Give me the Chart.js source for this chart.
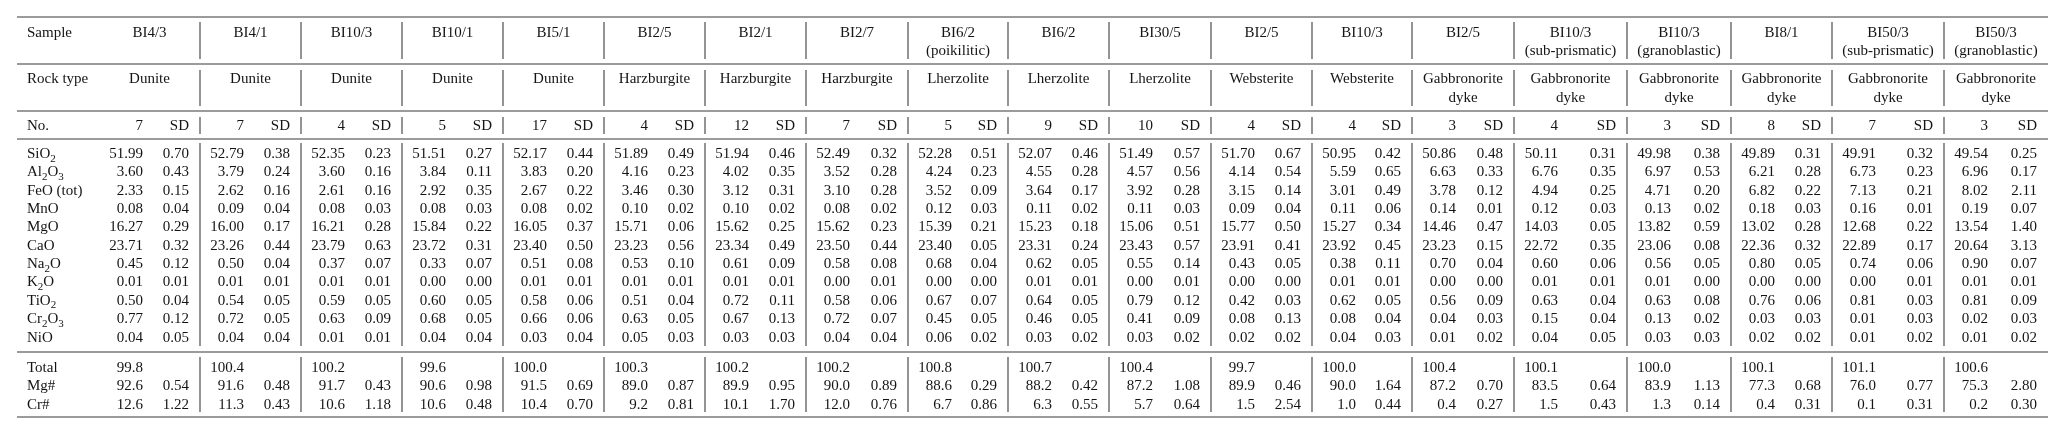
<!DOCTYPE html>
<html>
<head>
<meta charset="utf-8">
<script src="https://cdn.jsdelivr.net/npm/chart.js@4"></script>
<style>
html,body{margin:0;padding:0;background:#fff;}
#wrap{width:2067px;height:437px;}
</style>
</head>
<body>
<div id="wrap"><canvas id="c" width="2067" height="437"></canvas></div>
<script>
// ---------- DATA ----------
const samples = ['BI4/3','BI4/1','BI10/3','BI10/1','BI5/1','BI2/5','BI2/1','BI2/7','BI6/2','BI6/2','BI30/5','BI2/5','BI10/3','BI2/5','BI10/3','BI10/3','BI8/1','BI50/3','BI50/3'];
const sampleNotes = ['','','','','','','','','(poikilitic)','','','','','','(sub-prismatic)','(granoblastic)','','(sub-prismatic)','(granoblastic)'];
const rockTypes = ['Dunite','Dunite','Dunite','Dunite','Dunite','Harzburgite','Harzburgite','Harzburgite','Lherzolite','Lherzolite','Lherzolite','Websterite','Websterite','Gabbronorite','Gabbronorite','Gabbronorite','Gabbronorite','Gabbronorite','Gabbronorite'];
const rockNotes = ['','','','','','','','','','','','','','dyke','dyke','dyke','dyke','dyke','dyke'];
const nAnalyses = [7,7,4,5,17,4,12,7,5,9,10,4,4,3,4,3,8,7,3];

const rowLabels = ['SiO_2','Al_2O_3','FeO (tot)','MnO','MgO','CaO','Na_2O','K_2O','TiO_2','Cr_2O_3','NiO'];
const summaryLabels = ['Total','Mg#','Cr#'];

const SiO2     = [51.99,52.79,52.35,51.51,52.17,51.89,51.94,52.49,52.28,52.07,51.49,51.70,50.95,50.86,50.11,49.98,49.89,49.91,49.54];
const SiO2_sd  = [0.70,0.38,0.23,0.27,0.44,0.49,0.46,0.32,0.51,0.46,0.57,0.67,0.42,0.48,0.31,0.38,0.31,0.32,0.25];
const Al2O3    = [3.60,3.79,3.60,3.84,3.83,4.16,4.02,3.52,4.24,4.55,4.57,4.14,5.59,6.63,6.76,6.97,6.21,6.73,6.96];
const Al2O3_sd = [0.43,0.24,0.16,0.11,0.20,0.23,0.35,0.28,0.23,0.28,0.56,0.54,0.65,0.33,0.35,0.53,0.28,0.23,0.17];
const FeO      = [2.33,2.62,2.61,2.92,2.67,3.46,3.12,3.10,3.52,3.64,3.92,3.15,3.01,3.78,4.94,4.71,6.82,7.13,8.02];
const FeO_sd   = [0.15,0.16,0.16,0.35,0.22,0.30,0.31,0.28,0.09,0.17,0.28,0.14,0.49,0.12,0.25,0.20,0.22,0.21,2.11];
const MnO      = [0.08,0.09,0.08,0.08,0.08,0.10,0.10,0.08,0.12,0.11,0.11,0.09,0.11,0.14,0.12,0.13,0.18,0.16,0.19];
const MnO_sd   = [0.04,0.04,0.03,0.03,0.02,0.02,0.02,0.02,0.03,0.02,0.03,0.04,0.06,0.01,0.03,0.02,0.03,0.01,0.07];
const MgO      = [16.27,16.00,16.21,15.84,16.05,15.71,15.62,15.62,15.39,15.23,15.06,15.77,15.27,14.46,14.03,13.82,13.02,12.68,13.54];
const MgO_sd   = [0.29,0.17,0.28,0.22,0.37,0.06,0.25,0.23,0.21,0.18,0.51,0.50,0.34,0.47,0.05,0.59,0.28,0.22,1.40];
const CaO      = [23.71,23.26,23.79,23.72,23.40,23.23,23.34,23.50,23.40,23.31,23.43,23.91,23.92,23.23,22.72,23.06,22.36,22.89,20.64];
const CaO_sd   = [0.32,0.44,0.63,0.31,0.50,0.56,0.49,0.44,0.05,0.24,0.57,0.41,0.45,0.15,0.35,0.08,0.32,0.17,3.13];
const Na2O     = [0.45,0.50,0.37,0.33,0.51,0.53,0.61,0.58,0.68,0.62,0.55,0.43,0.38,0.70,0.60,0.56,0.80,0.74,0.90];
const Na2O_sd  = [0.12,0.04,0.07,0.07,0.08,0.10,0.09,0.08,0.04,0.05,0.14,0.05,0.11,0.04,0.06,0.05,0.05,0.06,0.07];
const K2O      = [0.01,0.01,0.01,0.00,0.01,0.01,0.01,0.00,0.00,0.01,0.00,0.00,0.01,0.00,0.01,0.01,0.00,0.00,0.01];
const K2O_sd   = [0.01,0.01,0.01,0.00,0.01,0.01,0.01,0.01,0.00,0.01,0.01,0.00,0.01,0.00,0.01,0.00,0.00,0.01,0.01];
const TiO2     = [0.50,0.54,0.59,0.60,0.58,0.51,0.72,0.58,0.67,0.64,0.79,0.42,0.62,0.56,0.63,0.63,0.76,0.81,0.81];
const TiO2_sd  = [0.04,0.05,0.05,0.05,0.06,0.04,0.11,0.06,0.07,0.05,0.12,0.03,0.05,0.09,0.04,0.08,0.06,0.03,0.09];
const Cr2O3    = [0.77,0.72,0.63,0.68,0.66,0.63,0.67,0.72,0.45,0.46,0.41,0.08,0.08,0.04,0.15,0.13,0.03,0.01,0.02];
const Cr2O3_sd = [0.12,0.05,0.09,0.05,0.06,0.05,0.13,0.07,0.05,0.05,0.09,0.13,0.04,0.03,0.04,0.02,0.03,0.03,0.03];
const NiO      = [0.04,0.04,0.01,0.04,0.03,0.05,0.03,0.04,0.06,0.03,0.03,0.02,0.04,0.01,0.04,0.03,0.02,0.01,0.01];
const NiO_sd   = [0.05,0.04,0.01,0.04,0.04,0.03,0.03,0.04,0.02,0.02,0.02,0.02,0.03,0.02,0.05,0.03,0.02,0.02,0.02];
const Total    = [99.8,100.4,100.2,99.6,100.0,100.3,100.2,100.2,100.8,100.7,100.4,99.7,100.0,100.4,100.1,100.0,100.1,101.1,100.6];
const MgNum    = [92.6,91.6,91.7,90.6,91.5,89.0,89.9,90.0,88.6,88.2,87.2,89.9,90.0,87.2,83.5,83.9,77.3,76.0,75.3];
const MgNum_sd = [0.54,0.48,0.43,0.98,0.69,0.87,0.95,0.89,0.29,0.42,1.08,0.46,1.64,0.70,0.64,1.13,0.68,0.77,2.80];
const CrNum    = [12.6,11.3,10.6,10.6,10.4,9.2,10.1,12.0,6.7,6.3,5.7,1.5,1.0,0.4,1.5,1.3,0.4,0.1,0.2];
const CrNum_sd = [1.22,0.43,1.18,0.48,0.70,0.81,1.70,0.76,0.86,0.55,0.64,2.54,0.44,0.27,0.43,0.14,0.31,0.31,0.30];

const oxideMeans = [SiO2,Al2O3,FeO,MnO,MgO,CaO,Na2O,K2O,TiO2,Cr2O3,NiO];
const oxideSDs   = [SiO2_sd,Al2O3_sd,FeO_sd,MnO_sd,MgO_sd,CaO_sd,Na2O_sd,K2O_sd,TiO2_sd,Cr2O3_sd,NiO_sd];
const summaryMeans = [Total,MgNum,CrNum];
const summarySDs   = [null,MgNum_sd,CrNum_sd];

// ---------- LAYOUT (table units) ----------
const W = 2067, H = 437;
const groupEdges = [99,200,301,402,503,604,705,806,908,1008,1109,1211,1312,1412,1514,1627,1731,1832,1944,2048];
const labelX = 27, ruleX0 = 17, ruleX1 = 2048;
const headY = [32, 50], rockY = [78, 97], noY = 125;
const dataY0 = 153, dataStep = 18.35, sumY0 = 367;
const rulesY = [17, 64, 111, 139, 352, 417];
const vSegs = [[22,59],[70,106],[117,134],[143,346],[357,412]];
const FONT = 'Liberation Serif, Times New Roman, serif';
const FS = 15;

function richParts(t){
  const parts=[]; let i=0;
  while(i<t.length){
    if(t[i]==='_'){ parts.push({s:t[i+1],sub:true}); i+=2; }
    else { let j=i; while(j<t.length && t[j]!=='_') j++; parts.push({s:t.slice(i,j),sub:false}); i=j; }
  }
  return parts;
}
function drawText(ctx, text, x, yc, align){
  const parts = richParts(String(text));
  let w=0;
  parts.forEach(p=>{ ctx.font = (p.sub? 11 : FS)+'px '+FONT; p.w=ctx.measureText(p.s).width; w+=p.w; });
  let sx = align==='right' ? x-w : align==='center' ? x-w/2 : x;
  const base = yc + 5;
  parts.forEach(p=>{
    ctx.font = (p.sub? 11 : FS)+'px '+FONT;
    ctx.fillText(p.s, sx, p.sub ? base+3.5 : base);
    sx += p.w;
  });
}

const tablePlugin = {
  id:'tablePlugin',
  afterDraw(chart){
    const ctx = chart.ctx, xs = chart.scales.x, ys = chart.scales.y;
    const X = v=>xs.getPixelForValue(v), Y = v=>ys.getPixelForValue(v);
    ctx.save();
    ctx.textBaseline='alphabetic';
    ctx.textAlign='left';
    // rules
    ctx.strokeStyle='#7a7a7a'; ctx.lineWidth=1.6;
    rulesY.forEach(r=>{ ctx.beginPath(); ctx.moveTo(X(ruleX0),Y(r)); ctx.lineTo(X(ruleX1),Y(r)); ctx.stroke(); });
    ctx.strokeStyle='#5a5a5a'; ctx.lineWidth=1.3;
    for(let g=1; g<groupEdges.length-1; g++){
      vSegs.forEach(s=>{ ctx.beginPath(); ctx.moveTo(X(groupEdges[g]),Y(s[0])); ctx.lineTo(X(groupEdges[g]),Y(s[1])); ctx.stroke(); });
    }
    ctx.fillStyle='#141414';
    // row labels
    drawText(ctx,'Sample',X(labelX),Y(headY[0]),'left');
    drawText(ctx,'Rock type',X(labelX),Y(rockY[0]),'left');
    drawText(ctx,'No.',X(labelX),Y(noY),'left');
    rowLabels.forEach((l,i)=>drawText(ctx,l,X(labelX),Y(dataY0+i*dataStep),'left'));
    summaryLabels.forEach((l,i)=>drawText(ctx,l,X(labelX),Y(sumY0+i*dataStep),'left'));
    // columns
    samples.forEach((s,g)=>{
      const L = groupEdges[g], R = groupEdges[g+1];
      const cx = (L+R)/2, vx = L+44, sx = R-11;
      drawText(ctx,s,X(cx),Y(headY[0]),'center');
      if(sampleNotes[g]) drawText(ctx,sampleNotes[g],X(cx),Y(headY[1]),'center');
      drawText(ctx,rockTypes[g],X(cx),Y(rockY[0]),'center');
      if(rockNotes[g]) drawText(ctx,rockNotes[g],X(cx),Y(rockY[1]),'center');
      drawText(ctx,String(nAnalyses[g]),X(vx),Y(noY),'right');
      drawText(ctx,'SD',X(sx),Y(noY),'right');
      oxideMeans.forEach((arr,i)=>{
        const y = Y(dataY0+i*dataStep);
        drawText(ctx,arr[g].toFixed(2),X(vx),y,'right');
        drawText(ctx,oxideSDs[i][g].toFixed(2),X(sx),y,'right');
      });
      summaryMeans.forEach((arr,i)=>{
        const y = Y(sumY0+i*dataStep);
        drawText(ctx,arr[g].toFixed(1),X(vx),y,'right');
        if(summarySDs[i]) drawText(ctx,summarySDs[i][g].toFixed(2),X(sx),y,'right');
      });
    });
    ctx.restore();
  }
};

new Chart(document.getElementById('c'),{
  type:'scatter',
  data:{datasets:[{data:[],pointRadius:0}]},
  options:{
    responsive:false, animation:false, devicePixelRatio:1,
    layout:{padding:0},
    plugins:{legend:{display:false},tooltip:{enabled:false}},
    scales:{
      x:{type:'linear',min:0,max:W,display:false},
      y:{type:'linear',min:0,max:H,reverse:true,display:false}
    }
  },
  plugins:[tablePlugin]
});
</script>
</body>
</html>
